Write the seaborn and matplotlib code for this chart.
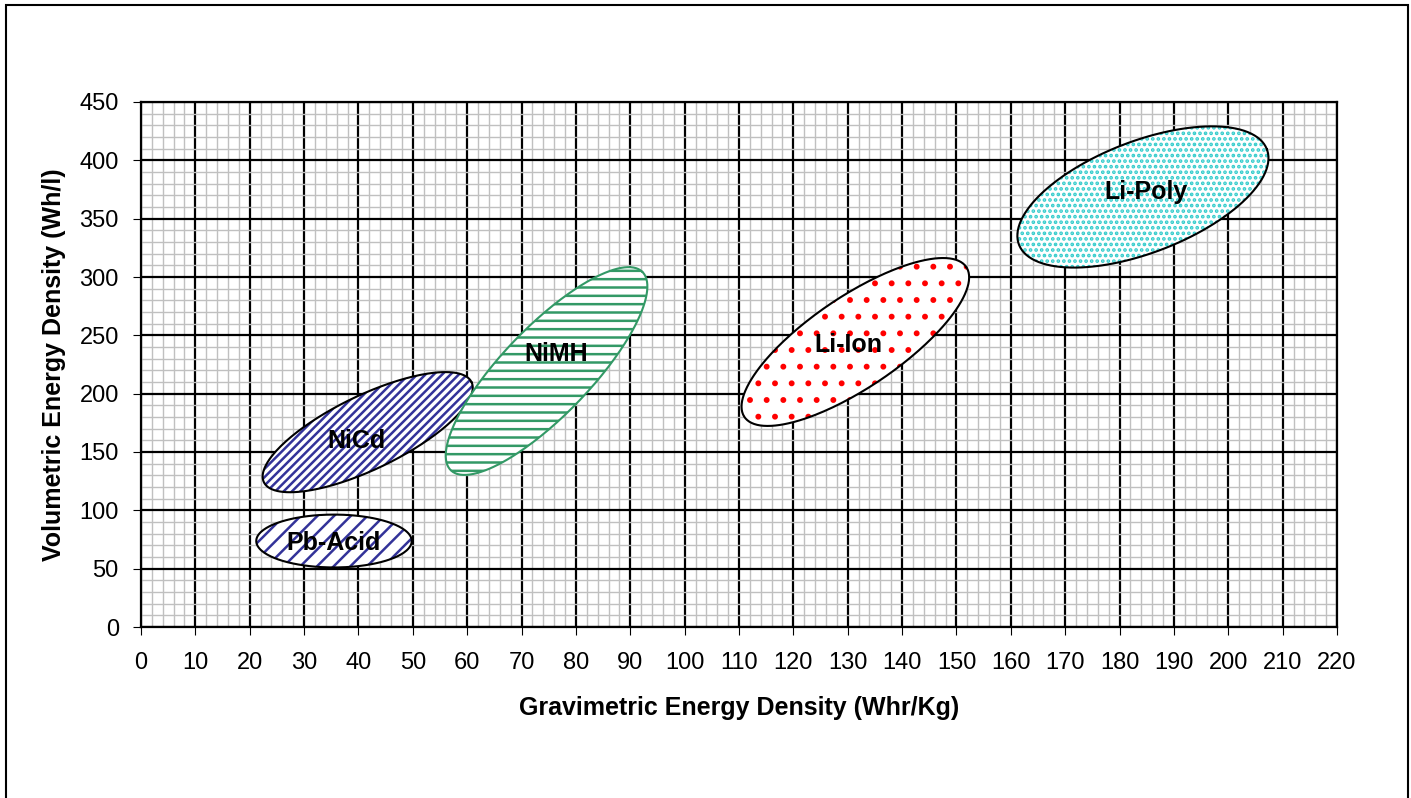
import matplotlib
matplotlib.use("Agg")
import matplotlib.pyplot as plt
import numpy as np
import pandas as pd
import seaborn as sns
from matplotlib.patches import Rectangle
from matplotlib.ticker import MultipleLocator

# battery chemistries
batteries = ["Pb-Acid", "NiCd", "NiMH", "Li-Ion", "Li-Poly"]
center_whr_kg = [35.5, 41.7, 74.6, 131.4, 184.3]
center_wh_l = [73.7, 167.0, 219.4, 244.3, 368.6]
# offset from centre to the tip of the long axis (data units)
tip_whr_kg = [14.3, 19.1, 17.6, 20.4, 22.8]
tip_wh_l = [0.0, 42.9, 85.1, 64.3, 40.9]
# short axis / long axis, as drawn on screen
axis_ratio = [0.34, 0.32, 0.32, 0.34, 0.42]

x_ticks = list(range(0, 221, 10))
y_ticks = list(range(0, 451, 50))

# styling
styles = {
  "Pb-Acid": dict(edge="black", hatch_color="#333399", hatch="//", label_shift=(0, -2)),
  "NiCd": dict(edge="black", hatch_color="#333399", hatch="////", label_shift=(-2, -8)),
  "NiMH": dict(edge="#339966", hatch_color="#339966", hatch="--", label_shift=(1.7, 15)),
  "Li-Ion": dict(edge="black", hatch_color="#FF0000", hatch=".", label_shift=(-1.3, -2.5)),
  "Li-Poly": dict(edge="black", hatch_color="#33CCCC", hatch="...", label_shift=(0.6, 4)),
}

sns.set_theme(style="white")
plt.rcParams["font.family"] = ["Liberation Sans", "DejaVu Sans"]
plt.rcParams["hatch.linewidth"] = 1.8


def ellipse_outline(cx, cy, dx, dy, ratio, sx, sy, n=240):
  # build the ellipse in screen space so the rotation looks right, then back to data
  ux, uy = dx * sx, dy * sy
  vx, vy = -uy * ratio, ux * ratio
  t = np.linspace(0, 2 * np.pi, n)
  px = ux * np.cos(t) + vx * np.sin(t)
  py = uy * np.cos(t) + vy * np.sin(t)
  return cx + px / sx, cy + py / sy


fig = plt.figure(figsize=(14.11, 7.98), dpi=100)
ax = fig.add_axes([141 / 1411, 171 / 798, 1196 / 1411, 525 / 798])
ax.set_xlim(0, 220)
ax.set_ylim(0, 450)

bbox = ax.get_window_extent()
sx = bbox.width / 220
sy = bbox.height / 450

for i, name in enumerate(batteries):
  st = styles[name]
  xs, ys = ellipse_outline(center_whr_kg[i], center_wh_l[i], tip_whr_kg[i], tip_wh_l[i],
                           axis_ratio[i], sx, sy)
  z = 2 + i
  ax.fill(xs, ys, facecolor="white", edgecolor="none", zorder=z)
  ax.fill(xs, ys, facecolor="none", edgecolor=st["hatch_color"], hatch=st["hatch"],
          linewidth=0, zorder=z + 0.1)
  outline = pd.DataFrame({"x": xs, "y": ys})
  sns.lineplot(data=outline, x="x", y="y", sort=False, estimator=None, color=st["edge"],
               linewidth=1.5, zorder=z + 0.2, ax=ax)
  dx, dy = st["label_shift"]
  ax.text(center_whr_kg[i] + dx, center_wh_l[i] + dy, name, ha="center", va="center",
          fontsize=18, fontweight="bold", color="black", zorder=20)

ax.set_xticks(x_ticks)
ax.set_yticks(y_ticks)
ax.xaxis.set_minor_locator(MultipleLocator(2))
ax.yaxis.set_minor_locator(MultipleLocator(10))
ax.set_axisbelow(True)
ax.grid(which="minor", color="#C0C0C0", linewidth=1.0)
ax.grid(which="major", color="black", linewidth=1.6)
ax.tick_params(which="major", direction="out", length=6, width=0.8, color="black",
               labelsize=17, labelcolor="black")
ax.tick_params(axis="x", which="major", pad=12)
ax.tick_params(axis="y", which="major", pad=10)
ax.tick_params(which="minor", length=0)
ax.tick_params(bottom=True, left=True)
for spine in ax.spines.values():
  spine.set_color("black")
  spine.set_linewidth(1.6)

ax.set_xlabel("Gravimetric Energy Density (Whr/Kg)", fontsize=18, fontweight="bold",
              color="black", va="center")
ax.set_ylabel("Volumetric Energy Density (Wh/l)", fontsize=18, fontweight="bold",
              color="black", va="center")
ax.xaxis.set_label_coords(0.5, (627 - 708) / 525)
ax.yaxis.set_label_coords((54 - 141) / 1196, 0.5)

fig.patch.set_facecolor("white")
fig.add_artist(Rectangle((6 / 1411, -0.01), 1402 / 1411, 1.01 - 5 / 798,
                         transform=fig.transFigure, fill=False, edgecolor="black",
                         linewidth=1.5))

fig.savefig("out.png", dpi=100, facecolor="white")
